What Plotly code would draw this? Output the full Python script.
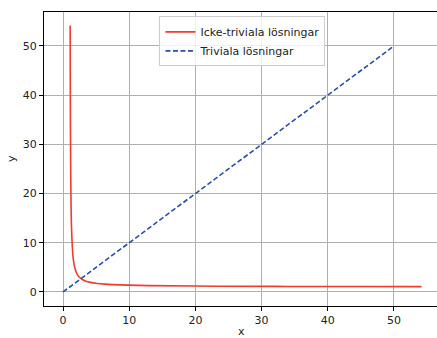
import plotly.graph_objects as go

# Non-trivial solutions of x^y = y^x
nontriv_x = [1.083, 1.099, 1.124, 1.171, 1.292, 1.495, 1.587, 1.732, 2.0, 2.25, 2.488,
             2.718, 2.986, 3.375, 4.0, 5.196, 6.35, 7.477, 12.92, 23.42, 33.73, 43.97, 54.16]
nontriv_y = [54.16, 43.97, 33.73, 23.42, 12.92, 7.477, 6.35, 5.196, 4.0, 3.375, 2.986,
             2.718, 2.488, 2.25, 2.0, 1.732, 1.587, 1.495, 1.292, 1.171, 1.124, 1.099, 1.083]
triv_x = [0, 50]
triv_y = [0, 50]

fig = go.Figure()
fig.add_trace(go.Scatter(x=nontriv_x, y=nontriv_y, mode="lines", line_shape="spline",
                         name="Icke-triviala lösningar",
                         line=dict(color="#f03b2e", width=1.6)))
fig.add_trace(go.Scatter(x=triv_x, y=triv_y, mode="lines",
                         name="Triviala lösningar",
                         line=dict(color="#2a4fa8", width=1.6, dash="5px,2.5px")))

axis_common = dict(showgrid=True, gridcolor="#b0b0b0", gridwidth=1, zeroline=False,
                   showline=True, linecolor="black", linewidth=1, automargin=False,
                   ticks="outside", ticklen=4, tickcolor="black",
                   tickfont=dict(family="DejaVu Sans", size=11, color="#222"))
fig.update_layout(
    width=437, height=338,
    margin=dict(l=44, r=0, t=12, b=32),
    paper_bgcolor="white", plot_bgcolor="white",
    font=dict(family="DejaVu Sans", size=11, color="#222"),
    xaxis=dict(range=[-2.87, 56.5], tickvals=[0, 10, 20, 30, 40, 50], mirror=True,
               **axis_common),
    yaxis=dict(range=[-2.85, 56.9], tickvals=[0, 10, 20, 30, 40, 50],
               **axis_common),
    legend=dict(x=0.505, y=0.985, xanchor="center", yanchor="top",
                bgcolor="rgba(255,255,255,0.8)", bordercolor="#cccccc", borderwidth=1,
                font=dict(size=11), tracegroupgap=0),
    annotations=[
        dict(text="x", xref="paper", yref="paper", x=0.502, y=0, yshift=-25,
             xanchor="center", yanchor="middle", showarrow=False, font=dict(size=11)),
        dict(text="y", xref="paper", yref="paper", x=0, y=0.5, xshift=-33,
             xanchor="center", yanchor="middle", showarrow=False, textangle=-90,
             font=dict(size=11)),
    ],
    showlegend=True,
)
fig.write_html("out.html", config={"displayModeBar": False},
               post_script="document.body.style.margin='0';document.body.style.overflow='hidden';")
